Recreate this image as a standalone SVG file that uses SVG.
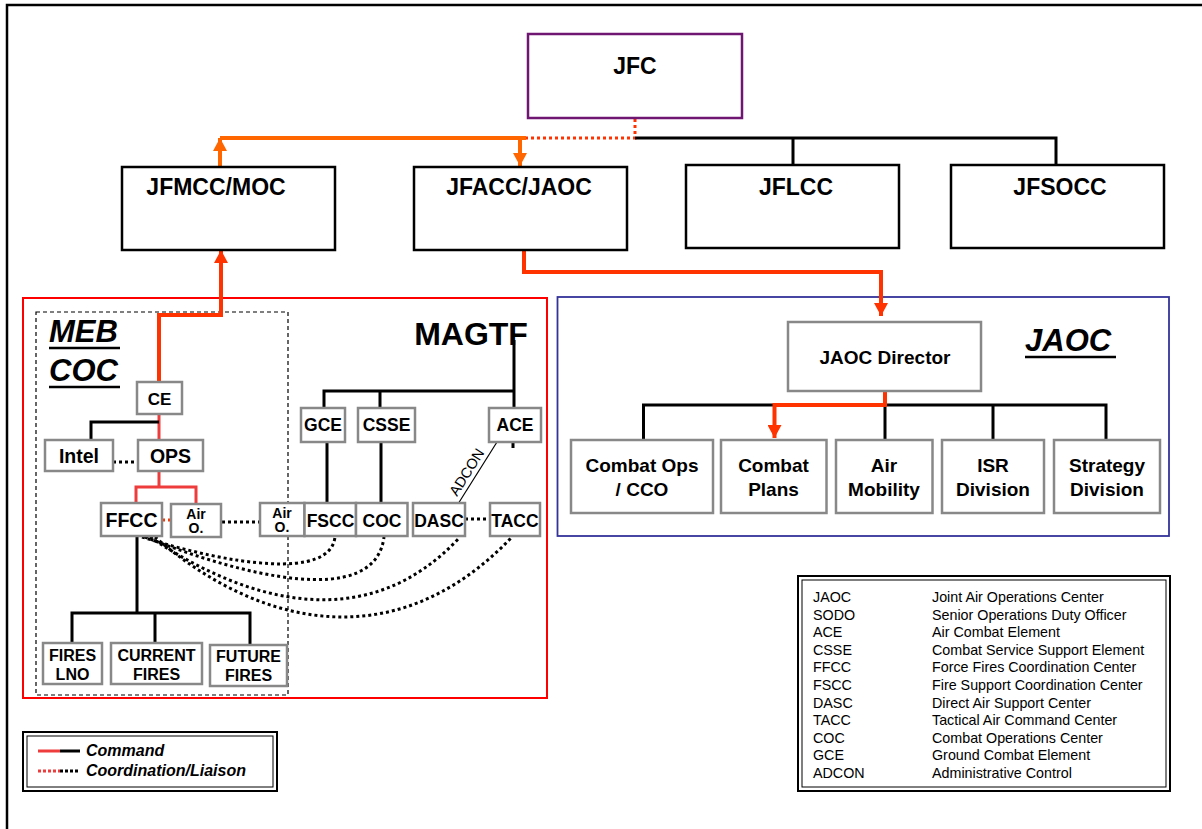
<svg xmlns="http://www.w3.org/2000/svg" width="1202" height="829" viewBox="0 0 1202 829">
  <style>
    text { font-family: "Liberation Sans", Arial, sans-serif; fill: #000; }
    .b { font-weight: bold; text-anchor: middle; }
    .top { font-size: 23px; }
    .node { fill: #fff; stroke: #888; stroke-width: 2.5; }
    .cmd { fill: #fff; stroke: #000; stroke-width: 2.5; }
    .t18 { font-size: 17.5px; }
    .t19 { font-size: 19.5px; }
    .t16 { font-size: 16px; }
    .t14 { font-size: 14px; }
    .jaoc { font-size: 19px; }
    .blk { fill: none; stroke: #000; stroke-width: 3; }
    .org { fill: none; stroke: #FF6600; stroke-width: 4; }
    .red { fill: none; stroke: #FF3300; stroke-width: 4; }
    .lred { fill: none; stroke: #EE3B3B; stroke-width: 3; }
    .dotb { fill: none; stroke: #000; stroke-width: 3; stroke-dasharray: 3 3; }
    .dotr { fill: none; stroke: #FF3300; stroke-width: 3; stroke-dasharray: 3 3; }
    .abbr { font-size: 14.3px; }
    .title { font-weight: bold; font-style: italic; }
  </style>
  <defs>
    <marker id="ahOrange" markerUnits="userSpaceOnUse" markerWidth="14" markerHeight="14" refX="13" refY="7" orient="auto">
      <path d="M0,0 L13,7 L0,14 Z" fill="#FF6600"/>
    </marker>
    <marker id="ahRed" markerUnits="userSpaceOnUse" markerWidth="14" markerHeight="14" refX="13" refY="7" orient="auto">
      <path d="M0,0 L13,7 L0,14 Z" fill="#FF3300"/>
    </marker>
  </defs>

  <!-- frame -->
  <rect x="7" y="5" width="1210" height="840" fill="#fff" stroke="#000" stroke-width="2.5"/>

  <!-- containers -->
  <g id="magtf-area">
    <rect x="23" y="298" width="524" height="400" fill="none" stroke="#FF0000" stroke-width="2"/>
    <text x="471" y="345" class="b" font-size="32px">MAGTF</text>
  </g>
  <g id="meb-coc-area">
    <rect x="36" y="312" width="252" height="383" fill="none" stroke="#000" stroke-width="1.2" stroke-dasharray="4 3"/>
    <text x="49" y="342" class="title" font-size="31px">MEB</text>
    <line x1="49" y1="348" x2="120" y2="348" stroke="#000" stroke-width="2.5"/>
    <text x="49" y="381" class="title" font-size="31px">COC</text>
    <line x1="49" y1="387" x2="120" y2="387" stroke="#000" stroke-width="2.5"/>
  </g>
  <g id="jaoc-area">
    <rect x="557.5" y="297" width="611.5" height="239" fill="none" stroke="#333399" stroke-width="1.8"/>
    <text x="1025" y="351" class="title" font-size="31px">JAOC</text>
    <line x1="1025" y1="357" x2="1116" y2="357" stroke="#000" stroke-width="2.5"/>
  </g>

  <!-- connectors -->
  <g id="connectors">
    <!-- JFC to components -->
    <path class="dotr" d="M635,119 V138 H526"/>
    <path class="blk" d="M635,138 H1056 V165 M793,138 V165"/>
    <path class="org" d="M526,138 H220"/>
    <path class="org" d="M220,166 V138" marker-end="url(#ahOrange)"/>
    <path class="org" d="M520,138 V166" marker-end="url(#ahOrange)"/>
    <!-- JFACC to JAOC Director -->
    <path class="red" d="M524,250 V272 H881 V316" marker-end="url(#ahRed)"/>
    <!-- CE to JFMCC -->
    <path class="red" d="M159,382 V315 H221 V250" marker-end="url(#ahRed)"/>
    <!-- JAOC tree -->
    <path class="blk" d="M643.5,440 V405 H1106 V440 M885,405 V440 M993,405 V440"/>
    <path class="red" d="M885,391 V405 H774.5 V438" marker-end="url(#ahRed)"/>
    <!-- MEB COC -->
    <path class="lred" d="M159,414 V440" stroke-width="2.5"/>
    <path class="blk" d="M159,422 H91 V440"/>
    <path class="dotb" d="M113,462 H138"/>
    <path class="lred" d="M159,471 V487 M136,503 V487 H196 V504"/>
    <path class="dotr" d="M162,520 H171"/>
    <path class="dotb" d="M222,522 H260"/>
    <path class="blk" d="M137,536 V613 M72,643 V613 H250 V645 M155,613 V643"/>
    <!-- MAGTF tree -->
    <path class="blk" d="M514,340 V408 M514,391 H324 V408 M380,391 V408"/>
    <path class="blk" d="M327,442 V503 M381,442 V503 M513,442 V448"/>
    <line x1="497" y1="442" x2="458" y2="504" stroke="#000" stroke-width="1.2"/>
    <text transform="translate(457,497) rotate(-57.8)" font-size="14.5px">ADCON</text>
    <path class="dotb" d="M465,519 H490"/>
    <!-- FFCC coordination -->
    <path class="dotb" d="M142,537 C230,565 330,580 335,537"/>
    <path class="dotb" d="M145,537 C240,575 375,610 384,537"/>
    <path class="dotb" d="M150,537 C250,605 370,635 460,537"/>
    <path class="dotb" d="M155,537 C250,620 390,665 512,537"/>
  </g>

  <!-- top level -->
  <g id="jfc">
    <rect x="528" y="34" width="214" height="84" fill="#fff" stroke="#6F1673" stroke-width="2.5"/>
    <text x="635" y="74" class="b top">JFC</text>
  </g>
  <g id="jfmcc">
    <rect x="122" y="167" width="213" height="83" class="cmd" stroke-width="2"/>
    <text x="216" y="195" class="b top">JFMCC/MOC</text>
  </g>
  <g id="jfacc">
    <rect x="414" y="167" width="213" height="83" class="cmd"/>
    <text x="519" y="195" class="b top">JFACC/JAOC</text>
  </g>
  <g id="jflcc">
    <rect x="686" y="165" width="213" height="83" class="cmd"/>
    <text x="796" y="195" class="b top">JFLCC</text>
  </g>
  <g id="jfsocc">
    <rect x="951" y="165" width="213" height="83" class="cmd"/>
    <text x="1060" y="195" class="b top">JFSOCC</text>
  </g>

  <!-- JAOC -->
  <g id="jaoc-director">
    <rect x="788" y="322" width="193" height="69" class="node"/>
    <text x="885" y="364" class="b jaoc">JAOC Director</text>
  </g>
  <g id="combat-ops">
    <rect x="571" y="440" width="142" height="73" class="node"/>
    <text x="642" y="472" class="b jaoc">Combat Ops</text>
    <text x="642" y="496" class="b jaoc">/ CCO</text>
  </g>
  <g id="combat-plans">
    <rect x="721" y="440" width="105.5" height="73" class="node"/>
    <text x="773.5" y="472" class="b jaoc">Combat</text>
    <text x="773.5" y="496" class="b jaoc">Plans</text>
  </g>
  <g id="air-mobility">
    <rect x="836" y="440" width="96.5" height="73" class="node"/>
    <text x="884" y="472" class="b jaoc">Air</text>
    <text x="884" y="496" class="b jaoc">Mobility</text>
  </g>
  <g id="isr-division">
    <rect x="942" y="440" width="102" height="73" class="node"/>
    <text x="993" y="472" class="b jaoc">ISR</text>
    <text x="993" y="496" class="b jaoc">Division</text>
  </g>
  <g id="strategy-division">
    <rect x="1054" y="440" width="106" height="73" class="node"/>
    <text x="1107" y="472" class="b jaoc">Strategy</text>
    <text x="1107" y="496" class="b jaoc">Division</text>
  </g>

  <!-- MEB COC -->
  <g id="ce">
    <rect x="137" y="382" width="45" height="32" class="node"/>
    <text x="159.5" y="405" class="b" font-size="17px">CE</text>
  </g>
  <g id="intel">
    <rect x="45" y="440" width="68" height="31" class="node"/>
    <text x="79" y="463" class="b t19">Intel</text>
  </g>
  <g id="ops">
    <rect x="138" y="440" width="65" height="31" class="node"/>
    <text x="170.5" y="463" class="b t19">OPS</text>
  </g>
  <g id="ffcc">
    <rect x="101" y="503" width="61" height="33" class="node"/>
    <text x="131.5" y="527" class="b t19">FFCC</text>
  </g>
  <g id="air-o-meb">
    <rect x="171" y="504" width="50" height="33" class="node"/>
    <text x="196" y="518.5" class="b t14">Air</text>
    <text x="196" y="533" class="b t14">O.</text>
  </g>
  <g id="fires-lno">
    <rect x="43" y="643" width="59" height="41" class="node"/>
    <text x="72.5" y="661" class="b t16">FIRES</text>
    <text x="72.5" y="680" class="b t16">LNO</text>
  </g>
  <g id="current-fires">
    <rect x="111" y="643" width="91" height="41" class="node"/>
    <text x="156.5" y="661" class="b t16">CURRENT</text>
    <text x="156.5" y="680" class="b t16">FIRES</text>
  </g>
  <g id="future-fires">
    <rect x="210" y="645" width="77" height="41" class="node"/>
    <text x="248.5" y="662" class="b t16">FUTURE</text>
    <text x="248.5" y="681" class="b t16">FIRES</text>
  </g>

  <!-- MAGTF elements -->
  <g id="gce">
    <rect x="301" y="408" width="44" height="34" class="node"/>
    <text x="323" y="431" class="b t18">GCE</text>
  </g>
  <g id="csse">
    <rect x="358" y="408" width="57" height="34" class="node"/>
    <text x="386.5" y="431" class="b t18">CSSE</text>
  </g>
  <g id="ace">
    <rect x="489" y="408" width="52" height="34" class="node"/>
    <text x="515" y="431" class="b t18">ACE</text>
  </g>
  <g id="air-o-magtf">
    <rect x="260" y="503" width="44.5" height="33" class="node"/>
    <text x="282" y="517.5" class="b t14">Air</text>
    <text x="282" y="532" class="b t14">O.</text>
  </g>
  <g id="fscc">
    <rect x="304.5" y="503" width="51.5" height="33" class="node"/>
    <text x="330.5" y="527" class="b t18">FSCC</text>
  </g>
  <g id="coc">
    <rect x="356" y="503" width="51.5" height="33" class="node"/>
    <text x="382" y="527" class="b t18">COC</text>
  </g>
  <g id="dasc">
    <rect x="413" y="503" width="52" height="33" class="node"/>
    <text x="439" y="527" class="b t18">DASC</text>
  </g>
  <g id="tacc">
    <rect x="490" y="503" width="50" height="33" class="node"/>
    <text x="515" y="527" class="b t18">TACC</text>
  </g>

  <!-- line legend -->
  <g id="line-legend">
    <rect x="23" y="732" width="254" height="59" fill="#fff" stroke="#000" stroke-width="2"/>
    <rect x="27" y="736" width="246" height="51" fill="none" stroke="#000" stroke-width="1"/>
    <line x1="38" y1="751" x2="60" y2="751" stroke="#EE3B3B" stroke-width="3"/>
    <line x1="60" y1="751" x2="80" y2="751" stroke="#000" stroke-width="3"/>
    <line x1="38" y1="771" x2="60" y2="771" stroke="#EE3B3B" stroke-width="3" stroke-dasharray="3 2"/>
    <line x1="60" y1="771" x2="80" y2="771" stroke="#000" stroke-width="3" stroke-dasharray="3 2"/>
    <text x="86" y="756" class="title" font-size="16px">Command</text>
    <text x="86" y="776" class="title" font-size="16px">Coordination/Liaison</text>
  </g>

  <!-- abbreviations -->
  <g id="abbreviations">
    <rect x="798" y="576" width="372" height="215" fill="#fff" stroke="#000" stroke-width="2"/>
    <rect x="802" y="580" width="364" height="207" fill="none" stroke="#000" stroke-width="1"/>
    <text x="813" y="602" class="abbr">JAOC</text><text x="932" y="602" class="abbr">Joint Air Operations Center</text>
    <text x="813" y="619.6" class="abbr">SODO</text><text x="932" y="619.6" class="abbr">Senior Operations Duty Officer</text>
    <text x="813" y="637.2" class="abbr">ACE</text><text x="932" y="637.2" class="abbr">Air Combat Element</text>
    <text x="813" y="654.8" class="abbr">CSSE</text><text x="932" y="654.8" class="abbr">Combat Service Support Element</text>
    <text x="813" y="672.4" class="abbr">FFCC</text><text x="932" y="672.4" class="abbr">Force Fires Coordination Center</text>
    <text x="813" y="690" class="abbr">FSCC</text><text x="932" y="690" class="abbr">Fire Support Coordination Center</text>
    <text x="813" y="707.6" class="abbr">DASC</text><text x="932" y="707.6" class="abbr">Direct Air Support Center</text>
    <text x="813" y="725.2" class="abbr">TACC</text><text x="932" y="725.2" class="abbr">Tactical Air Command Center</text>
    <text x="813" y="742.8" class="abbr">COC</text><text x="932" y="742.8" class="abbr">Combat Operations Center</text>
    <text x="813" y="760.4" class="abbr">GCE</text><text x="932" y="760.4" class="abbr">Ground Combat Element</text>
    <text x="813" y="778" class="abbr">ADCON</text><text x="932" y="778" class="abbr">Administrative Control</text>
  </g>
</svg>
